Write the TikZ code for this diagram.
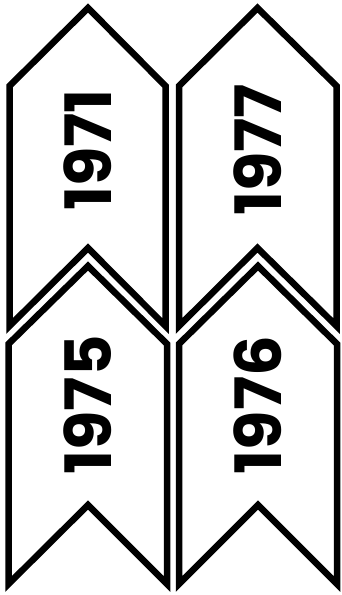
\documentclass[tikz,border=0pt]{standalone}
\usepackage{fontspec}
\newfontfamily\yrfont{Poppins}
\begin{document}
\begin{tikzpicture}[x=1pt,y=-1pt,
  chev/.style={draw=black, line width=6.5pt, fill=white, line join=miter},
  yr/.style={rotate=90, inner sep=0pt, font=\yrfont\bfseries\fontsize{64}{64}\selectfont}]
\useasboundingbox (0,0) rectangle (342,595);
\path[chev] (9.5,86) -- (88,8) -- (165.5,86) -- (165.5,326) -- (88,248) -- (9.5,326) -- cycle;
\path[chev] (179,86) -- (257.5,8) -- (336.5,86) -- (336.5,326) -- (257.5,248) -- (179,326) -- cycle;
\path[chev] (8.5,344) -- (88,266) -- (167,344) -- (167,584) -- (88,505) -- (8.5,584) -- cycle;
\path[chev] (179,344) -- (258,266) -- (337,344) -- (337,584) -- (258,505) -- (179,584) -- cycle;
\node[yr] (a) at (88,150) {1971};
\node[yr] (b) at (258,150) {1977};
\node[yr] (c) at (88,405) {1975};
\node[yr] (d) at (258,405) {1976};
\end{tikzpicture}
\end{document}
